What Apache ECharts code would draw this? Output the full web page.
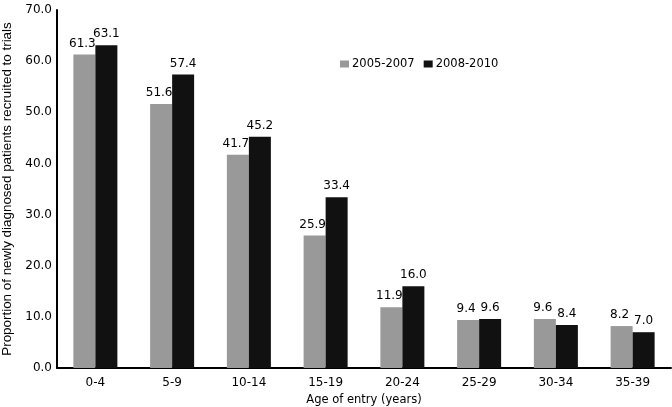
<!DOCTYPE html>
<html>
<head>
<meta charset="utf-8">
<script src="https://cdn.jsdelivr.net/npm/echarts@6/dist/echarts.min.js"></script>
<style>html,body{margin:0;padding:0;background:#fff;}#c{width:672px;height:407px;}</style>
</head>
<body>
<div id="c"></div>
<script>
const categories = ['0-4','5-9','10-14','15-19','20-24','25-29','30-34','35-39'];
const series2005 = [61.3, 51.6, 41.7, 25.9, 11.9, 9.4, 9.6, 8.2];
const series2008 = [63.1, 57.4, 45.2, 33.4, 16.0, 9.6, 8.4, 7.0];
const seriesNames = ['2005-2007', '2008-2010'];
const yTicks = { min: 0, max: 70, interval: 10 };

const FONT = 'DejaVu Sans';
const chart = echarts.init(document.getElementById('c'), null, { renderer: 'canvas' });
const lbl = (dx) => ({
  show: true, position: 'top', distance: 5, offset: [dx, 0],
  color: '#000', fontFamily: FONT, fontSize: 12,
  formatter: p => p.value.toFixed(1)
});
chart.setOption({
  animation: false,
  backgroundColor: '#fff',
  textStyle: { fontFamily: FONT },
  grid: { left: 57, right: 1, top: 10, bottom: 39, containLabel: false, outerBoundsMode: 'none' },
  legend: {
    data: seriesNames, left: 340, top: 58, padding: 0,
    itemWidth: 9, itemHeight: 7, itemGap: 9,
    icon: 'rect',
    textStyle: { color: '#000', fontFamily: FONT, fontSize: 11.5, padding: [0, 0, 0, -2] }
  },
  xAxis: {
    type: 'category', data: categories,
    name: 'Age of entry (years)', nameLocation: 'middle', nameGap: 24,
    nameTextStyle: { color: '#000', fontFamily: FONT, fontSize: 11.5 },
    axisLine: { show: true, lineStyle: { color: '#000', width: 2 } },
    axisTick: { show: false },
    axisLabel: { color: '#000', fontFamily: FONT, fontSize: 12, margin: 9 }
  },
  yAxis: {
    type: 'value', min: yTicks.min, max: yTicks.max, interval: yTicks.interval,
    name: 'Proportion of newly diagnosed patients recruited to trials',
    nameLocation: 'middle', nameGap: 43,
    nameTextStyle: { color: '#000', fontFamily: 'Liberation Sans', fontSize: 13.4 },
    axisLine: { show: true, lineStyle: { color: '#000', width: 2 } },
    axisTick: { show: false },
    splitLine: { show: false },
    axisLabel: { color: '#000', fontFamily: FONT, fontSize: 12, margin: 5,
      formatter: v => v.toFixed(1) }
  },
  series: [
    { name: seriesNames[0], type: 'bar', data: series2005, barWidth: 22, barGap: '0%',
      itemStyle: { color: '#999999' }, label: lbl(-2) },
    { name: seriesNames[1], type: 'bar', data: series2008, barWidth: 22, barGap: '0%',
      itemStyle: { color: '#111111' }, label: lbl(0) }
  ]
});
</script>
</body>
</html>
